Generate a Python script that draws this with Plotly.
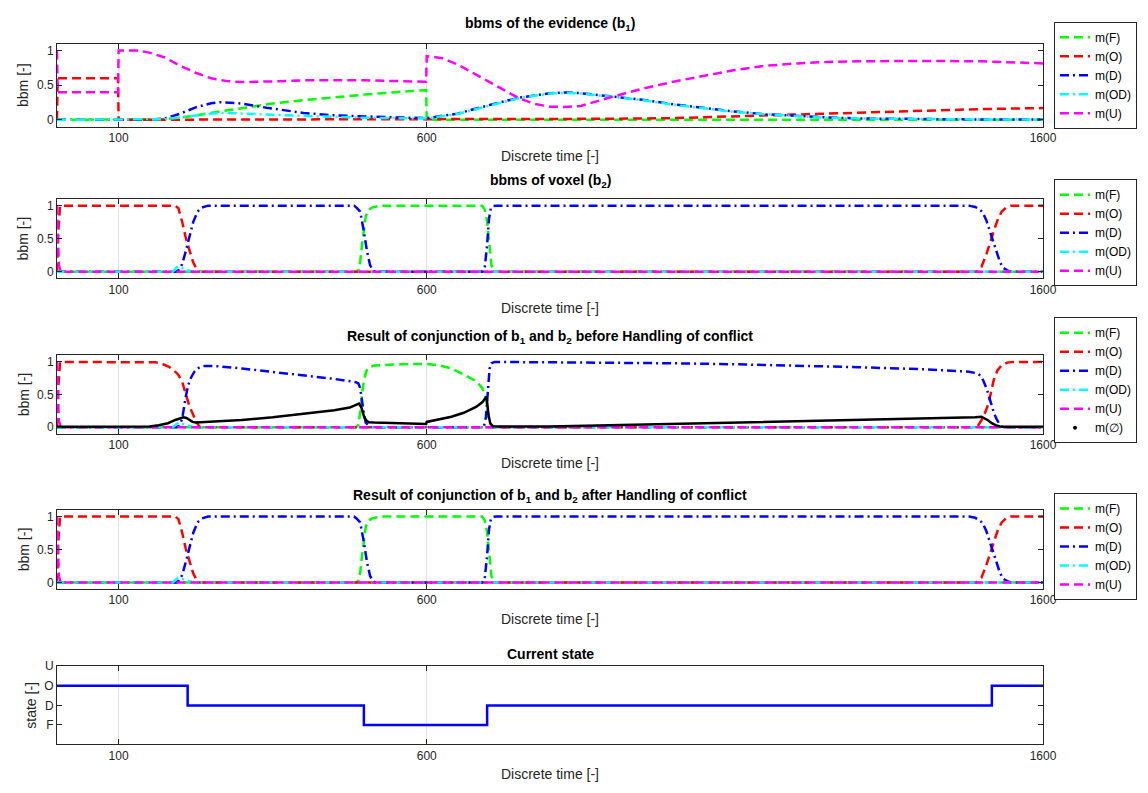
import plotly.graph_objects as go

# ---------------------------------------------------------------- data
# Panel 1: bbms of the evidence (b1)
b1_F_t = [0, 150, 175, 200, 225, 250, 275, 300, 350, 400, 450, 500, 550, 599, 600, 800, 1000, 1200, 1400, 1600]
b1_F = [0, 0, 0.01, 0.03, 0.06, 0.1, 0.135, 0.17, 0.235, 0.285, 0.33, 0.365, 0.4, 0.43, 0, 0, 0, 0, 0, 0]

b1_O_t = [0, 1, 99, 100, 300, 600, 800, 900, 1000, 1100, 1200, 1300, 1400, 1500, 1600]
b1_O = [0, 0.6, 0.6, 0, 0.005, 0.01, 0.01, 0.015, 0.025, 0.05, 0.08, 0.11, 0.135, 0.155, 0.17]

b1_D_t = [0, 150, 175, 200, 225, 250, 265, 280, 300, 340, 400, 450, 500, 550, 600, 650, 700, 750, 800, 825,
          850, 900, 950, 1000, 1050, 1100, 1150, 1200, 1250, 1300, 1400, 1500, 1600]
b1_D = [0, 0, 0.02, 0.09, 0.18, 0.24, 0.255, 0.25, 0.235, 0.175, 0.1, 0.065, 0.045, 0.035, 0.025, 0.09, 0.21, 0.32, 0.385, 0.395,
        0.385, 0.34, 0.29, 0.225, 0.17, 0.12, 0.08, 0.055, 0.035, 0.02, 0.01, 0.005, 0.005]

b1_OD_t = [0, 150, 175, 200, 225, 250, 275, 300, 350, 400, 450, 500, 550, 600, 650, 700, 750, 800, 825, 850,
           900, 950, 1000, 1050, 1100, 1150, 1200, 1250, 1300, 1400, 1500, 1600]
b1_OD = [0, 0, 0.01, 0.035, 0.065, 0.09, 0.1, 0.095, 0.075, 0.055, 0.04, 0.03, 0.025, 0.02, 0.085, 0.2, 0.315, 0.38, 0.39, 0.38,
         0.335, 0.285, 0.22, 0.165, 0.115, 0.08, 0.05, 0.03, 0.02, 0.01, 0.005, 0.005]

b1_U_t = [0, 1, 99, 100, 130, 150, 175, 200, 225, 250, 275, 300, 350, 400, 500, 599, 600, 625, 650, 675,
          700, 725, 750, 775, 800, 825, 850, 900, 950, 1000, 1050, 1100, 1150, 1200, 1250, 1300, 1400, 1500, 1600]
b1_U = [1, 0.4, 0.4, 1, 1, 0.97, 0.9, 0.78, 0.68, 0.6, 0.56, 0.545, 0.555, 0.57, 0.57, 0.55, 0.92, 0.89, 0.8, 0.68,
        0.56, 0.43, 0.31, 0.23, 0.19, 0.185, 0.2, 0.33, 0.45, 0.55, 0.64, 0.72, 0.78, 0.815, 0.835, 0.845, 0.85, 0.845, 0.815]

# Panel 2: bbms of voxel (b2)
b2_F_t = [0, 485, 489, 492, 495, 498, 501, 505, 511, 520, 527, 690, 694, 698, 702, 705, 709, 1600]
b2_F = [0, 0, 0.02, 0.15, 0.41, 0.68, 0.84, 0.93, 0.97, 0.99, 1, 1, 0.94, 0.76, 0.31, 0.1, 0, 0]

b2_O_t = [0, 2, 5, 192, 197, 203, 209, 215, 221, 226, 232, 1492, 1500, 1508, 1514, 1520, 1527, 1533, 1540, 1548, 1600]
b2_O = [0, 0.6, 1, 1, 0.96, 0.76, 0.51, 0.31, 0.14, 0.05, 0, 0, 0.07, 0.26, 0.45, 0.61, 0.8, 0.91, 0.97, 1, 1]

b2_D_t = [0, 194, 198, 203, 209, 215, 221, 228, 235, 245, 482, 486, 492, 498, 503, 508, 512, 516,
          690, 694, 698, 701, 704, 708, 712, 1480, 1490, 1496, 1502, 1508, 1514, 1519, 1524, 1530, 1535, 1542, 1548, 1600]
b2_D = [0, 0, 0.03, 0.11, 0.31, 0.51, 0.75, 0.91, 0.97, 1, 1, 0.97, 0.91, 0.61, 0.31, 0.1, 0.03, 0,
        0, 0.05, 0.41, 0.8, 0.96, 0.995, 1, 1, 0.98, 0.95, 0.9, 0.78, 0.61, 0.45, 0.31, 0.15, 0.06, 0.02, 0, 0]

b2_OD_t = [0, 188, 196, 204, 212, 222, 1600]
b2_OD = [0, 0, 0.08, 0.05, 0.02, 0, 0]

b2_U_t = [0, 3, 6, 1600]
b2_U = [1, 0.1, 0, 0]

# Panel 3: conjunction before handling of conflict
c_F_t = [0, 485, 489, 492, 495, 498, 502, 506, 515, 530, 560, 600, 620, 640, 660, 680, 690, 694, 697, 700, 704, 708, 1600]
c_F = [0, 0, 0.03, 0.22, 0.5, 0.72, 0.86, 0.92, 0.945, 0.955, 0.965, 0.97, 0.95, 0.9, 0.81, 0.71, 0.6, 0.52, 0.38, 0.12, 0.03, 0, 0]

c_O_t = [0, 2, 5, 150, 160, 172, 181, 190, 197, 203, 209, 215, 221, 226, 232,
         1485, 1495, 1501, 1506, 1512, 1516, 1520, 1526, 1533, 1542, 1550, 1600]
c_O = [0, 0.6, 1, 1, 0.995, 0.965, 0.93, 0.87, 0.8, 0.7, 0.49, 0.32, 0.19, 0.08, 0,
       0, 0.03, 0.12, 0.22, 0.37, 0.55, 0.72, 0.87, 0.95, 0.99, 1, 1]

c_D_t = [0, 194, 198, 203, 209, 213, 218, 223, 228, 234, 240, 260, 300, 340, 400, 450, 485, 489, 492, 495,
         498, 501, 505, 508, 690, 693, 696, 699, 702, 705, 710, 800, 900, 1000, 1100, 1200, 1300, 1400, 1450, 1480,
         1491, 1497, 1501, 1505, 1509, 1513, 1517, 1521, 1525, 1529, 1533, 1540, 1600]
c_D = [0, 0, 0.02, 0.12, 0.47, 0.65, 0.77, 0.85, 0.9, 0.93, 0.94, 0.935, 0.9, 0.86, 0.79, 0.74, 0.69, 0.67, 0.6, 0.37,
       0.2, 0.07, 0.02, 0, 0, 0.02, 0.15, 0.6, 0.9, 0.98, 1.0, 0.995, 0.99, 0.98, 0.965, 0.945, 0.92, 0.89, 0.87, 0.85,
       0.83, 0.8, 0.76, 0.68, 0.58, 0.45, 0.32, 0.2, 0.12, 0.05, 0.01, 0, 0]

c_OD_t = [0, 188, 197, 204, 212, 222, 1600]
c_OD = [0, 0, 0.07, 0.05, 0.02, 0, 0]

c_U_t = [0, 3, 6, 1600]
c_U = [1, 0.1, 0, 0]

c_E_t = [0, 100, 150, 165, 180, 192, 200, 205, 210, 215, 220, 225, 250, 300, 350, 400, 450, 475, 490, 494,
         498, 502, 506, 515, 550, 599, 600, 620, 640, 660, 680, 690, 697, 700, 703, 707, 715, 800, 900, 1000,
         1100, 1200, 1300, 1400, 1450, 1490, 1500, 1505, 1510, 1517, 1523, 1530, 1540, 1600]
c_E = [0.005, 0.005, 0.01, 0.03, 0.06, 0.11, 0.14, 0.15, 0.14, 0.11, 0.08, 0.07, 0.08, 0.11, 0.15, 0.2, 0.26, 0.3, 0.36, 0.3,
       0.17, 0.1, 0.075, 0.07, 0.06, 0.05, 0.08, 0.115, 0.16, 0.22, 0.31, 0.38, 0.47, 0.2, 0.06, 0.015, 0.01, 0.01, 0.03, 0.05,
       0.07, 0.09, 0.11, 0.125, 0.135, 0.15, 0.16, 0.14, 0.11, 0.06, 0.03, 0.01, 0.005, 0.005]

# Panel 4: conjunction after handling of conflict
r_F_t = [0, 485, 489, 492, 495, 498, 501, 505, 511, 520, 527, 690, 694, 698, 702, 705, 709, 1600]
r_F = [0, 0, 0.02, 0.15, 0.41, 0.68, 0.84, 0.93, 0.97, 0.99, 1, 1, 0.94, 0.76, 0.31, 0.1, 0, 0]

r_O_t = [0, 2, 5, 192, 197, 203, 209, 215, 221, 226, 232, 1492, 1500, 1508, 1514, 1520, 1527, 1533, 1540, 1548, 1600]
r_O = [0, 0.6, 1, 1, 0.96, 0.76, 0.51, 0.31, 0.14, 0.05, 0, 0, 0.07, 0.26, 0.45, 0.61, 0.8, 0.91, 0.97, 1, 1]

r_D_t = [0, 194, 198, 203, 209, 215, 221, 228, 235, 245, 482, 486, 492, 498, 503, 508, 512, 516,
         690, 694, 698, 701, 704, 708, 712, 1480, 1490, 1496, 1502, 1508, 1514, 1519, 1524, 1530, 1535, 1542, 1548, 1600]
r_D = [0, 0, 0.03, 0.11, 0.31, 0.51, 0.75, 0.91, 0.97, 1, 1, 0.97, 0.91, 0.61, 0.31, 0.1, 0.03, 0,
       0, 0.05, 0.41, 0.8, 0.96, 0.995, 1, 1, 0.98, 0.95, 0.9, 0.78, 0.61, 0.45, 0.31, 0.15, 0.06, 0.02, 0, 0]

r_OD_t = [0, 188, 196, 204, 212, 222, 1600]
r_OD = [0, 0, 0.07, 0.045, 0.02, 0, 0]

r_U_t = [0, 3, 6, 1600]
r_U = [1, 0.1, 0, 0]

# Panel 5: current state (1=F, 2=D, 3=O, 4=U)
state_t = [0, 212, 498, 698, 1517, 1600]
state_v = [3, 2, 1, 2, 3, 3]
state_ticks = [1, 2, 3, 4]
state_labels = ["F", "D", "O", "U"]

x_ticks = [100, 600, 1600]
bbm_ticks = [0, 0.5, 1]
bbm_labels = ["0", "0.5", "1"]

titles = [
    "bbms of the evidence (b<sub>1</sub>)",
    "bbms of voxel (b<sub>2</sub>)",
    "Result of conjunction of b<sub>1</sub> and b<sub>2</sub> before Handling of conflict",
    "Result of conjunction of b<sub>1</sub> and b<sub>2</sub> after Handling of conflict",
    "Current state",
]

# ---------------------------------------------------------------- style
W, H = 1148, 793
FONT = "Liberation Sans, Arial, Helvetica, sans-serif"
AX = "#262626"
COL = {"F": "#00ff00", "O": "#ff0000", "D": "#0000ff", "OD": "#00ffff", "U": "#ff00ff"}
DASH = "9px,5px"
DASHDOT = "9px,4px,2px,4px"
STY = {"F": DASH, "O": DASH, "D": DASHDOT, "OD": DASHDOT, "U": DASH}

L_PX, R_PX = 57, 1043
boxes = [(37, 121), (194, 274), (352, 431), (508, 588), (666, 745)]   # (top, bottom) px
title_y = [17, 176, 333, 494, 654]
legend_mid = [69, 228, 377, 545]

panels = [
    [("F", b1_F_t, b1_F), ("O", b1_O_t, b1_O), ("D", b1_D_t, b1_D), ("OD", b1_OD_t, b1_OD), ("U", b1_U_t, b1_U)],
    [("F", b2_F_t, b2_F), ("O", b2_O_t, b2_O), ("D", b2_D_t, b2_D), ("OD", b2_OD_t, b2_OD), ("U", b2_U_t, b2_U)],
    [("F", c_F_t, c_F), ("O", c_O_t, c_O), ("D", c_D_t, c_D), ("OD", c_OD_t, c_OD), ("U", c_U_t, c_U)],
    [("F", r_F_t, r_F), ("O", r_O_t, r_O), ("D", r_D_t, r_D), ("OD", r_OD_t, r_OD), ("U", r_U_t, r_U)],
]

fig = go.Figure()

for i, series in enumerate(panels):
    sfx = "" if i == 0 else str(i + 1)
    leg = "legend" if i == 0 else "legend" + str(i + 1)
    for key, t, v in series:
        fig.add_trace(go.Scatter(
            x=t, y=v, mode="lines", name="m(" + key + ")",
            line=dict(color=COL[key], width=2.5, dash=STY[key]),
            xaxis="x" + sfx, yaxis="y" + sfx, legend=leg, hoverinfo="skip"))
    if i == 2:
        fig.add_trace(go.Scatter(
            x=c_E_t, y=c_E, mode="lines", name="m(\u2205)", showlegend=False,
            line=dict(color="black", width=2.5), xaxis="x3", yaxis="y3", legend="legend3"))
        fig.add_trace(go.Scatter(
            x=[None], y=[None], mode="markers", name="m(\u2205)",
            marker=dict(color="black", size=4), xaxis="x3", yaxis="y3", legend="legend3"))

fig.add_trace(go.Scatter(
    x=state_t, y=state_v, mode="lines", line=dict(color="#0000ff", width=2.5, shape="hv"),
    showlegend=False, xaxis="x5", yaxis="y5"))

layout = dict(
    width=W, height=H,
    margin=dict(l=L_PX, r=W - R_PX, t=0, b=0),
    paper_bgcolor="white", plot_bgcolor="white",
    font=dict(family=FONT, size=12, color=AX),
    annotations=[],
)

for i, (top, bot) in enumerate(boxes):
    sfx = "" if i == 0 else str(i + 1)
    xa = dict(
        domain=[0, 1], anchor="y" + sfx, range=[0, 1600],
        tickmode="array", tickvals=x_ticks, ticks="inside", ticklen=5, tickcolor=AX,
        showline=True, linecolor=AX, linewidth=1, mirror="ticks",
        showgrid=True, gridcolor="#e3e3e3", gridwidth=1, zeroline=False,
        tickfont=dict(family=FONT, size=12, color=AX),
        title=dict(text="Discrete time [-]", font=dict(family=FONT, size=14, color=AX), standoff=7),
    )
    ya = dict(
        domain=[1 - bot / H, 1 - top / H], anchor="x" + sfx,
        ticks="inside", ticklen=5, tickcolor=AX,
        showline=True, linecolor=AX, linewidth=1, mirror="ticks",
        showgrid=False, zeroline=False,
        tickfont=dict(family=FONT, size=12, color=AX),
    )
    if i < 4:
        ya.update(range=[-0.1, 1.1], tickmode="array", tickvals=bbm_ticks, ticktext=bbm_labels,
                  title=dict(text="bbm [-]", font=dict(family=FONT, size=14, color=AX), standoff=4))
    else:
        ya.update(range=[0, 4], tickmode="array", tickvals=state_ticks, ticktext=state_labels,
                  title=dict(text="state [-]", font=dict(family=FONT, size=14, color=AX), standoff=4))
    layout["xaxis" + sfx] = xa
    layout["yaxis" + sfx] = ya
    layout["annotations"].append(dict(
        text="<b>" + titles[i] + "</b>", x=0.5, xref="paper", y=1 - title_y[i] / H, yref="paper",
        xanchor="center", yanchor="middle", showarrow=False,
        font=dict(family=FONT, size=14, color="black")))

for i, mid in enumerate(legend_mid):
    key = "legend" if i == 0 else "legend" + str(i + 1)
    layout[key] = dict(
        x=(1054 - L_PX) / (R_PX - L_PX), xanchor="left", xref="paper",
        y=1 - mid / H, yanchor="middle", yref="paper",
        bgcolor="white", bordercolor=AX, borderwidth=1,
        font=dict(family=FONT, size=12, color="black"),
        tracegroupgap=0, itemclick=False,
    )

fig.update_layout(**layout)
fig.write_html("out.html")
